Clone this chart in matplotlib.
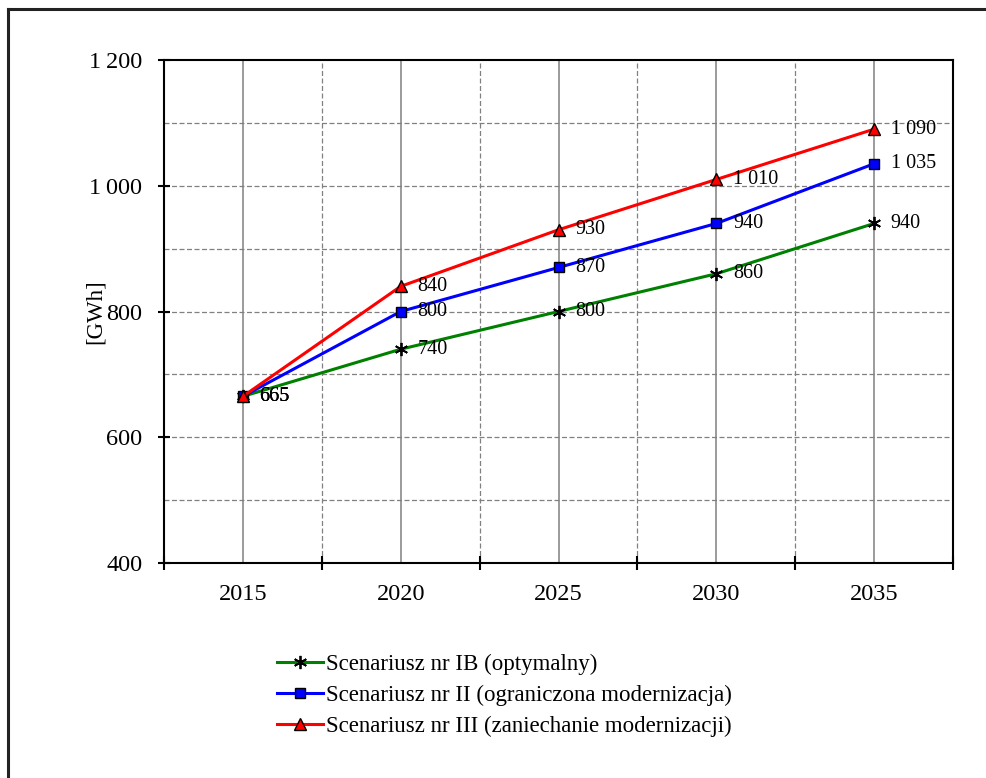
import matplotlib
matplotlib.use("Agg")
import matplotlib.pyplot as plt
import matplotlib.ticker as mticker
from matplotlib.lines import Line2D

# ── data ──────────────────────────────────────────────
years = ["2015", "2020", "2025", "2030", "2035"]
s_ib = [665, 740, 800, 860, 940]
s_ii = [665, 800, 870, 940, 1035]
s_iii = [665, 840, 930, 1010, 1090]
labels = [
    "Scenariusz nr IB (optymalny)",
    "Scenariusz nr II (ograniczona modernizacja)",
    "Scenariusz nr III (zaniechanie modernizacji)",
]
y_ticks = [400, 600, 800, 1000, 1200]

C_GREEN = "#008000"
C_BLUE = "#0000ff"
C_RED = "#ff0000"
C_GRID = "#808080"
FS_TICK = 17.5
FS_DATA = 14.5
FS_LEG = 16.5

plt.rcParams["font.family"] = ["Liberation Serif", "DejaVu Serif"]


def fmt_num(v, sep=" "):
    return f"{int(v):,}".replace(",", sep)


fig = plt.figure(figsize=(9.87, 7.78), dpi=100)
ax = fig.add_axes([164 / 987, 1 - 563 / 778, (953 - 164) / 987, (563 - 60) / 778])

# outer page frame (left + top only visible)
fig.add_artist(Line2D([8 / 987, 8 / 987], [0, 1 - 9 / 778], transform=fig.transFigure,
                      color="#222222", lw=2.2))
fig.add_artist(Line2D([8 / 987, 1], [1 - 9 / 778, 1 - 9 / 778], transform=fig.transFigure,
                      color="#222222", lw=2.2))

x = list(range(len(years)))
ax.set_xlim(-0.5, len(years) - 0.5)
ax.set_ylim(400, 1200)

# grid
for xi in x:
    ax.axvline(xi, color=C_GRID, lw=1.1, zorder=1)
for xb in [i + 0.5 for i in x[:-1]]:
    ax.axvline(xb, color=C_GRID, lw=0.9, ls=(0, (4, 2)), zorder=1)
for yv in range(500, 1200, 100):
    ax.axhline(yv, color=C_GRID, lw=0.9, ls=(0, (4, 2)), zorder=1)

series = [
    (s_ib, C_GREEN, dict(marker=(6, 2, 0), markersize=9.5, markeredgecolor="black",
                         markerfacecolor="black", markeredgewidth=1.3)),
    (s_ii, C_BLUE, dict(marker="s", markersize=7.5, markeredgecolor="black",
                        markerfacecolor=C_BLUE, markeredgewidth=1.0)),
    (s_iii, C_RED, dict(marker="^", markersize=8.5, markeredgecolor="black",
                        markerfacecolor=C_RED, markeredgewidth=1.0)),
]
for (vals, col, mk), lab in zip(series, labels):
    ax.plot(x, vals, color=col, lw=2.2, label=lab, zorder=3, clip_on=False, **mk)
    for xi, v in zip(x, vals):
        ax.annotate(fmt_num(v), (xi, v), xytext=(12, 0), textcoords="offset points",
                    ha="left", va="center", fontsize=FS_DATA, zorder=4)

# axes styling
for sp in ax.spines.values():
    sp.set_color("black")
    sp.set_linewidth(1.5)
ax.set_yticks(y_ticks)
ax.yaxis.set_major_formatter(mticker.FuncFormatter(lambda v, _: fmt_num(v, "\u2009")))
ax.tick_params(axis="y", direction="inout", length=9, width=1.5, labelsize=FS_TICK, pad=11)

ax.set_xticks([i - 0.5 for i in x] + [len(years) - 0.5])
ax.set_xticklabels([])
ax.set_xticks(x, minor=True)
ax.set_xticklabels(years, minor=True, fontsize=FS_TICK)
ax.tick_params(axis="x", which="major", direction="inout", length=10, width=1.5)
ax.tick_params(axis="x", which="minor", length=0, pad=15)

ax.set_ylabel("[GWh]", fontsize=FS_LEG)
ax.yaxis.set_label_coords((106 - 164) / 789, 0.5)

handles = ax.get_legend_handles_labels()
fig.legend(*handles, loc="upper left", bbox_to_anchor=(268 / 987, 1 - 645 / 778),
           frameon=False, fontsize=FS_LEG, handlelength=2.0, handletextpad=0.15,
           labelspacing=0.42, borderaxespad=0)

fig.savefig("out.png", dpi=100)
